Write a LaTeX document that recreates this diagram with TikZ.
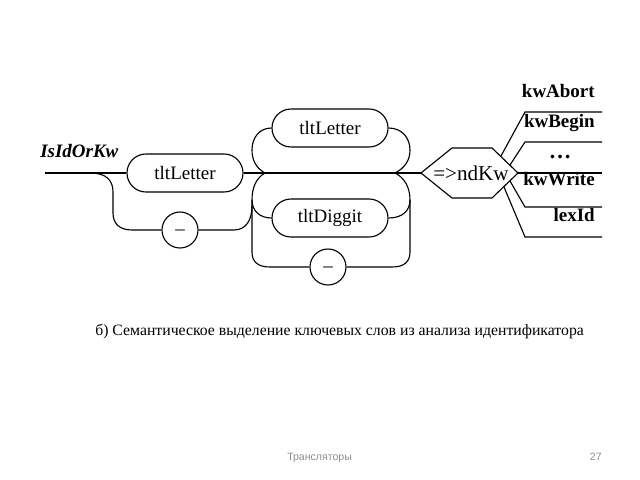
\documentclass[tikz,border=0pt]{standalone}
\usepackage{fontspec}
\setmainfont{Liberation Serif}
\newfontfamily\footfont{Liberation Sans}
\usetikzlibrary{shapes.misc}
\tikzset{rail/.style={draw=black, line width=0.8pt}}
\tikzset{term/.style={rail, rounded rectangle, minimum width=2.9cm, minimum height=0.95cm, inner sep=0pt, font=\fontsize{13.5}{15}\selectfont}}
\tikzset{sym/.style={rail, circle, minimum size=0.9cm, inner sep=0pt, font=\fontsize{13.5}{15}\selectfont}}
\tikzset{kw/.style={anchor=base east, inner sep=0pt, font=\bfseries\fontsize{13.5}{15}\selectfont}}

\begin{document}
\begin{tikzpicture}[x=0.025cm, y=-0.025cm]
\useasboundingbox (0,0) rectangle (640,480);
% name of the rule
\node[anchor=base west, inner sep=0pt, font=\bfseries\itshape\fontsize{13.5}{15}\selectfont] (rule) at (40,157) {IsIdOrKw};
% boxes
\coordinate (start) at (45,173);
\node[term] (let1) at (185,173) {tltLetter};
\node[sym] (und1) at (180,230) {\_};
\node[term] (let2) at (330,128) {tltLetter};
\node[term] (dig) at (330,218) {tltDiggit};
\node[sym] (und2) at (328,267) {\_};
% hexagon
\coordinate (h1) at (421,173);
\coordinate (h2) at (452,148);
\coordinate (h3) at (492,148);
\coordinate (h4) at (518,173);
\coordinate (h5) at (492,198);
\coordinate (h6) at (452,198);
\draw[rail] (h1) -- (h2) -- (h3) -- (h4) -- (h5) -- (h6) -- cycle;
\node[inner sep=0pt, font=\fontsize{15}{16}\selectfont] (ndkw) at (471,173) {=>ndKw};
% junctions
\coordinate (j1) at (90,173);
\coordinate (jl) at (265,173);
\coordinate (jr) at (395,173);
\coordinate (vl) at (252,200);
\coordinate (vr) at (410,200);
% main line
\draw[rail] (start) -- (let1.west);
\draw[rail] (let1.east) -- (h1);
% first lower branch
\draw[rail] (j1) .. controls (106,173) and (113,180) .. (113,192) -- (113,213)
  .. controls (113,224) and (120,230) .. (132,230) -- (und1.west);
\draw[rail] (und1.east) -- (234,230) .. controls (246,230) and (252,220) .. (252,206);
% upper loop
\draw[rail] (jl) .. controls (256,168) and (252,160) .. (252,150)
  .. controls (252,137) and (260,128) .. (let2.west);
\draw[rail] (let2.east) .. controls (402,128) and (410,138) .. (410,150)
  .. controls (410,160) and (405,168) .. (jr);
% lower loops
\draw[rail] (jl) .. controls (256,178) and (252,188) .. (vl) -- (252,252)
  .. controls (252,262) and (258,267) .. (270,267) -- (und2.west);
\draw[rail] (und2.east) -- (392,267) .. controls (404,267) and (410,262) .. (410,252)
  -- (vr) .. controls (410,188) and (405,178) .. (jr);
\draw[rail] (vl) .. controls (252,211) and (260,218) .. (dig.west);
\draw[rail] (dig.east) .. controls (402,218) and (410,211) .. (vr);
% outputs
\coordinate (o1) at (501,156);
\coordinate (o2) at (510,165);
\coordinate (o4) at (510,181);
\coordinate (o5) at (504,187);
\draw[rail] (o1) -- (525,112) -- (602,112);
\draw[rail] (o2) -- (525,142) -- (602,142);
\draw[rail] (h4) -- (602,173);
\draw[rail] (o4) -- (525,207) -- (602,207);
\draw[rail] (o5) -- (525,237) -- (602,237);
\node[kw] (abort) at (595,97) {kwAbort};
\node[kw] (begin) at (595,128) {kwBegin};
\node[inner sep=0pt, font=\bfseries\fontsize{16}{17}\selectfont] (dots) at (560,157) {\ldots};
\node[kw] (write) at (595,185) {kwWrite};
\node[kw] (lexid) at (595,221) {lexId};
% caption and footer
\node[anchor=base west, inner sep=0pt, font=\fontsize{11.2}{13}\selectfont] (capt) at (95,335) {б) Семантическое выделение ключевых слов из анализа идентификатора};
\node[anchor=base west, inner sep=0pt, text=black!45, font=\footfont\fontsize{7.5}{9}\selectfont] (foot) at (287,460) {Трансляторы};
\node[anchor=base east, inner sep=0pt, text=black!45, font=\footfont\fontsize{7.5}{9}\selectfont] (page) at (602,460) {27};
\end{tikzpicture}
\end{document}
